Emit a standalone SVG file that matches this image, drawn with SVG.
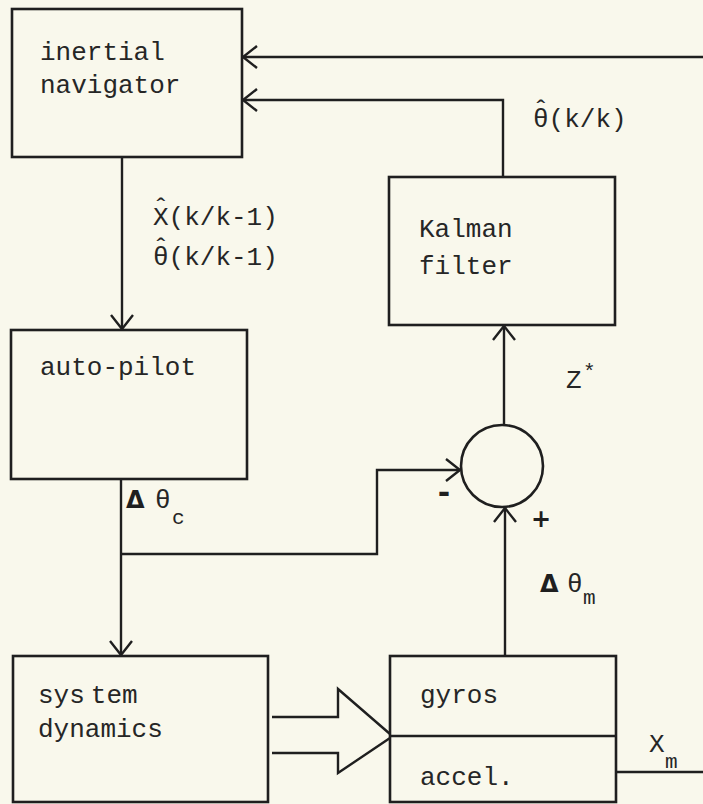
<svg xmlns="http://www.w3.org/2000/svg" width="703" height="804" viewBox="0 0 703 804">
<style>
.box{fill:none;stroke:#1f1f1f;stroke-width:2.6}
.ln{fill:none;stroke:#1f1f1f;stroke-width:2.4}
.t{font-family:"Liberation Mono","DejaVu Sans Mono",monospace;font-size:26px;fill:#262626}
.s{font-family:"Liberation Mono","DejaVu Sans Mono",monospace;font-size:21px;fill:#262626}
.g{font-family:"DejaVu Sans","Liberation Sans",sans-serif;font-size:24px;font-weight:bold;fill:#1f1f1f}
.m{font-family:"DejaVu Sans","Liberation Sans",sans-serif;font-size:30px;font-weight:bold;fill:#1f1f1f}
</style>
<defs>
<marker id="arr" viewBox="-16 -13 18 26" refX="0" refY="0" markerWidth="18" markerHeight="26" markerUnits="userSpaceOnUse" orient="auto">
<path d="M-14,-11 L0,0 L-14,11" fill="none" stroke="#1f1f1f" stroke-width="2.4"/>
</marker>
</defs>
<rect x="0" y="0" width="703" height="804" fill="#f9f8ec"/>

<g id="connectors">
<path class="ln" d="M703,57 L243,57" marker-end="url(#arr)"/>
<path class="ln" d="M503,177 L503,100 L243,100" marker-end="url(#arr)"/>
<path class="ln" d="M122,157 L122,329" marker-end="url(#arr)"/>
<path class="ln" d="M121,479 L121,655" marker-end="url(#arr)"/>
<path class="ln" d="M121,554 L377,554 L377,470 L460,470" marker-end="url(#arr)"/>
<path class="ln" d="M504,425 L504,326" marker-end="url(#arr)"/>
<path class="ln" d="M505,656 L505,508" marker-end="url(#arr)"/>
<path class="ln" d="M272,717 L338,717 L338,689 L390,734"/>
<path class="ln" d="M272,753 L338,753 L338,773 L390,738"/>
<path class="ln" d="M616,772 L703,772"/>
</g>

<g id="inertial-navigator">
<rect class="box" x="12" y="9" width="230" height="148"/>
<text class="t" x="40" y="60">inertial</text>
<text class="t" x="40" y="93">navigator</text>
</g>

<g id="label-predict">
<text class="t" x="153" y="225">X<tspan dx="-15.6" dy="-9">ˆ</tspan><tspan dy="9">(k/k-1)</tspan></text>
<text class="t" x="153" y="265">θ<tspan dx="-15.6" dy="-9">ˆ</tspan><tspan dy="9">(k/k-1)</tspan></text>
</g>

<g id="label-update">
<text class="t" x="533" y="127">θ<tspan dx="-15.6" dy="-9">ˆ</tspan><tspan dy="9">(k/k)</tspan></text>
</g>

<g id="kalman-filter">
<rect class="box" x="389" y="177" width="226" height="148"/>
<text class="t" x="419" y="237">Kalman</text>
<text class="t" x="419" y="274">filter</text>
</g>

<g id="auto-pilot">
<rect class="box" x="11" y="330" width="236" height="149"/>
<text class="t" x="40" y="375">auto-pilot</text>
</g>

<g id="label-dtheta-c">
<text class="g" x="126" y="508">Δ</text>
<text class="t" x="155" y="508">θ</text>
<text class="s" x="172" y="524">c</text>
</g>

<g id="label-z">
<text class="t" x="566" y="388">Z</text>
<text class="s" x="583" y="378">*</text>
</g>

<g id="summing-junction">
<circle class="box" cx="502" cy="466" r="41"/>
<text class="m" x="444" y="503" text-anchor="middle">-</text>
<text class="g" x="541" y="527" text-anchor="middle">+</text>
</g>

<g id="label-dtheta-m">
<text class="g" x="540" y="592">Δ</text>
<text class="t" x="567" y="592">θ</text>
<text class="s" x="583" y="604">m</text>
</g>

<g id="system-dynamics">
<rect class="box" x="13" y="656" width="255" height="146"/>
<text class="t" x="38" y="703">sys<tspan dx="6">tem</tspan></text>
<text class="t" x="38" y="737">dynamics</text>
</g>

<g id="sensors">
<rect class="box" x="390" y="656" width="226" height="146"/>
<line class="box" x1="390" y1="736" x2="616" y2="736"/>
<text class="t" x="420" y="703">gyros</text>
<text class="t" x="420" y="785">accel.</text>
</g>

<g id="label-xm">
<text class="t" x="649" y="752">X</text>
<text class="s" x="665" y="768">m</text>
</g>
</svg>
